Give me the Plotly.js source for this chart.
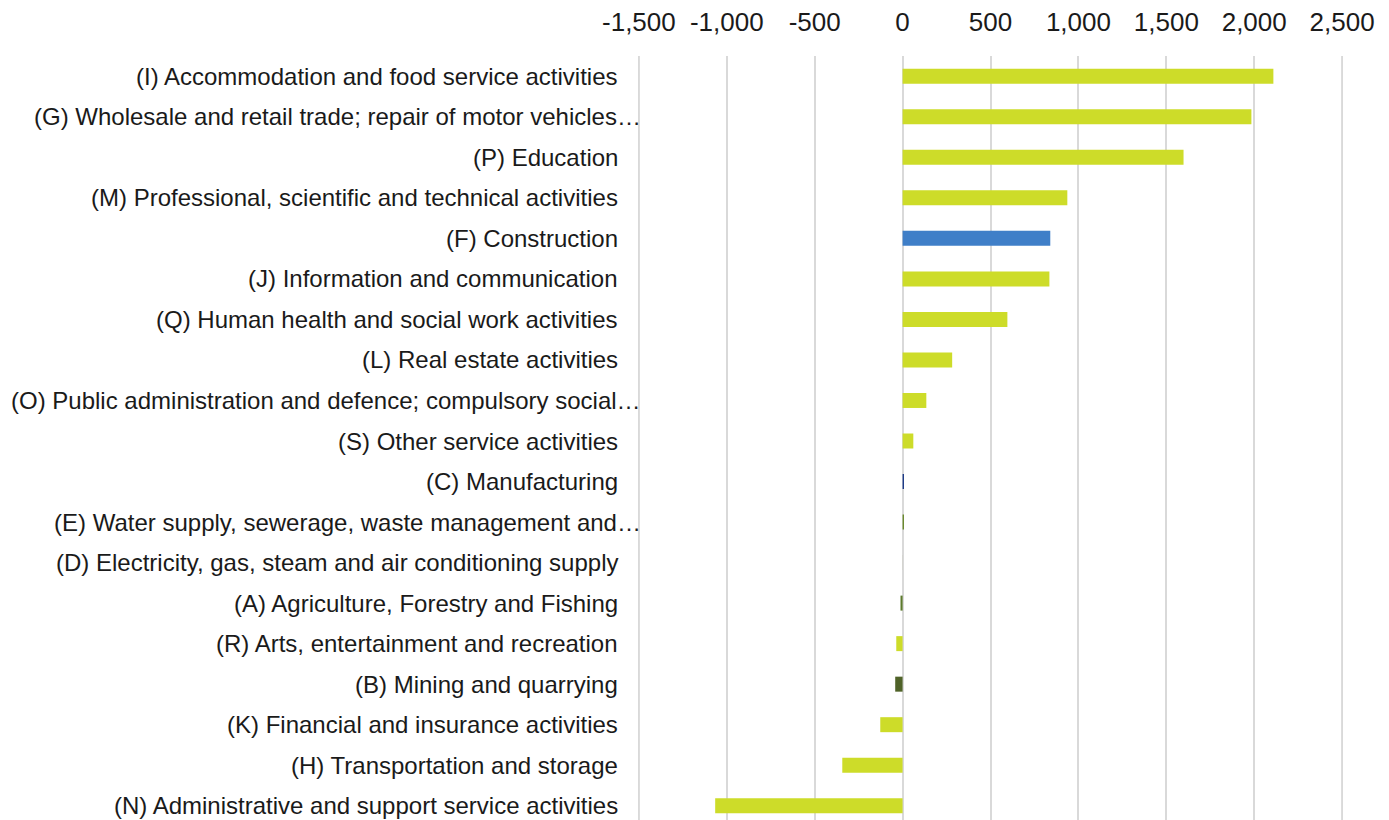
<!DOCTYPE html>
<html>
<head>
<meta charset="utf-8">
<script src="https://cdn.plot.ly/plotly-3.0.1.min.js"></script>
<style>html,body{margin:0;padding:0;overflow:hidden;background:#fff;}</style>
</head>
<body>
<div id="chart"></div>
<script>
const categories = [
  "(I) Accommodation and food service activities",
  "(G) Wholesale and retail trade; repair of motor vehicles…",
  "(P) Education",
  "(M) Professional, scientific and technical activities",
  "(F) Construction",
  "(J) Information and communication",
  "(Q) Human health and social work activities",
  "(L) Real estate activities",
  "(O) Public administration and defence; compulsory social…",
  "(S) Other service activities",
  "(C) Manufacturing",
  "(E) Water supply, sewerage, waste management and…",
  "(D) Electricity, gas, steam and air conditioning supply",
  "(A) Agriculture, Forestry and Fishing",
  "(R) Arts, entertainment and recreation",
  "(B) Mining and quarrying",
  "(K) Financial and insurance activities",
  "(H) Transportation and storage",
  "(N) Administrative and support service activities"
];
const values = [2109, 1984, 1598, 937, 840, 835, 596, 282, 135, 61, 8, 8, 2, -12, -36, -42, -127, -343, -1066];
const tickValues = [-1500, -1000, -500, 0, 500, 1000, 1500, 2000, 2500];

const LIME = "#CDDC29";
const colorMap = {
  "(F) Construction": "#3F7FC8",
  "(C) Manufacturing": "#1F3C88",
  "(E) Water supply, sewerage, waste management and…": "#6B8A2E",
  "(D) Electricity, gas, steam and air conditioning supply": "#C9CBC0",
  "(A) Agriculture, Forestry and Fishing": "#5C7A2C",
  "(B) Mining and quarrying": "#4F6228"
};
const colors = categories.map(c => colorMap[c] || LIME);

const annotations = categories.map(c => ({
  x: 0, xref: "paper", y: c, yref: "y",
  xanchor: "right", yanchor: "middle",
  xshift: c.endsWith("…") ? 5 : -18,
  text: c, showarrow: false,
  font: {family: "Liberation Sans, Arial, sans-serif", size: 24, color: "#1a1a1a"}
}));

// gridlines at the two range edges (Plotly omits grid lines on the plot border)
const edgeTicks = [tickValues[0], tickValues[tickValues.length - 1]];
const shapes = edgeTicks.map(v => ({
  type: "line", xref: "x", yref: "paper", x0: v, x1: v, y0: 0, y1: 1,
  line: {color: "#d9d9d9", width: 2}, layer: "below"
}));

Plotly.newPlot("chart", [{
  type: "bar", orientation: "h",
  y: categories, x: values,
  marker: {color: colors},
  width: 0.37,
  hoverinfo: "x+y",
  cliponaxis: false
}], {
  width: 1389, height: 826,
  margin: {l: 638, r: 46, t: 56, b: 0, pad: 0},
  paper_bgcolor: "#fff", plot_bgcolor: "#fff",
  showlegend: false,
  xaxis: {
    side: "top", range: [-1505, 2505],
    tickvals: tickValues, ticktext: tickValues.map(v => v.toLocaleString("en-US")),
    showgrid: true, gridcolor: "#d9d9d9", gridwidth: 2,
    zeroline: false, showline: false, ticks: "",
    ticklabelstandoff: 19,
    tickfont: {family: "Liberation Sans, Arial, sans-serif", size: 26, color: "#1a1a1a"}
  },
  yaxis: {
    type: "category", autorange: "reversed",
    showticklabels: false, showgrid: false, zeroline: false, ticks: ""
  },
  shapes: shapes,
  annotations: annotations
}, {displayModeBar: false, staticPlot: true});
</script>
</body>
</html>
